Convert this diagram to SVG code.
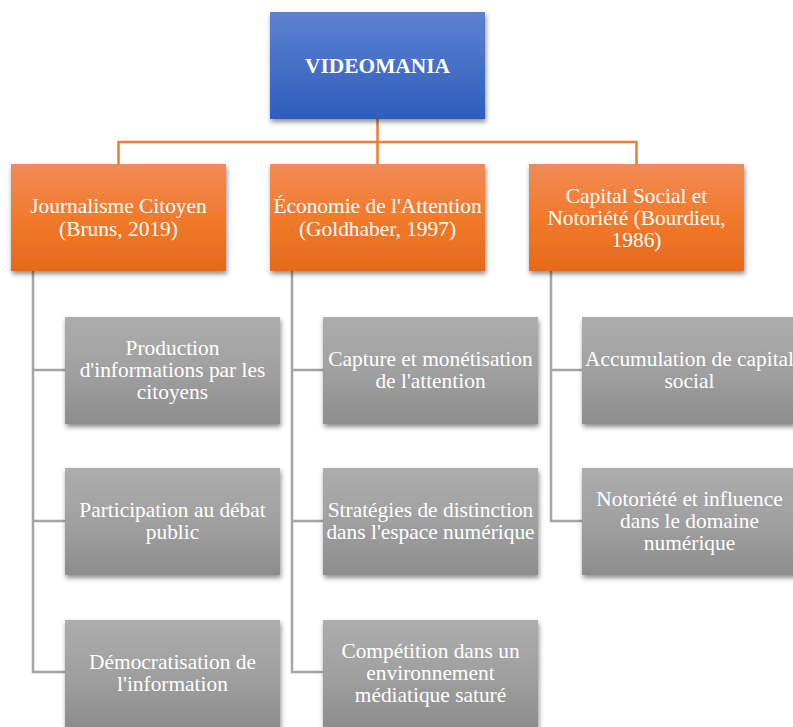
<svg xmlns="http://www.w3.org/2000/svg" width="793" height="727" viewBox="0 0 793 727">
<style>
text{font-family:'Liberation Serif','Times New Roman',serif;font-size:21.4px;fill:#ffffff;text-anchor:middle}
.title{font-weight:bold}
.oc{stroke:#ed7d31;stroke-width:2.5;fill:none}
.gc{stroke:#a5a5a5;stroke-width:2.5;fill:none}
</style>
<defs>
<linearGradient id="gb" x1="0" y1="0" x2="0" y2="1"><stop offset="0" stop-color="#5d81d1"/><stop offset="1" stop-color="#2e5ebd"/></linearGradient>
<linearGradient id="go" x1="0" y1="0" x2="0" y2="1"><stop offset="0" stop-color="#f08b57"/><stop offset="0.5" stop-color="#f27a2c"/><stop offset="1" stop-color="#e36a1b"/></linearGradient>
<linearGradient id="gg" x1="0" y1="0" x2="0" y2="1"><stop offset="0" stop-color="#adadad"/><stop offset="0.5" stop-color="#a0a0a0"/><stop offset="1" stop-color="#8d8d8d"/></linearGradient>
<filter id="sh" x="-10%" y="-10%" width="125%" height="130%"><feDropShadow dx="1" dy="3" stdDeviation="2.5" flood-color="#000" flood-opacity="0.45"/></filter>
</defs>
<g id="connectors">
<path class="oc" d="M377.5 119V142M118.5 164V142H636.5V164M377.5 142V164"/>
<path class="gc" d="M33 271V672H65M33 370H65M33 521H65"/>
<path class="gc" d="M292 271V672H323M292 370H323M292 521H323"/>
<path class="gc" d="M551 271V521H582M551 370H582"/>
</g>
<g id="videomania"><rect x="270" y="12" width="215" height="107" fill="url(#gb)" filter="url(#sh)"/><text class="title" x="377.5" y="73">VIDEOMANIA</text></g>
<g id="journalisme"><rect x="11" y="164" width="215" height="107" fill="url(#go)" filter="url(#sh)"/><text x="118.5" y="213">Journalisme Citoyen</text><text x="118.5" y="236">(Bruns, 2019)</text></g>
<g id="economie"><rect x="270" y="164" width="215" height="107" fill="url(#go)" filter="url(#sh)"/><text x="377.5" y="213">Économie de l'Attention</text><text x="377.5" y="236">(Goldhaber, 1997)</text></g>
<g id="capital"><rect x="529" y="164" width="215" height="107" fill="url(#go)" filter="url(#sh)"/><text x="636.5" y="203">Capital Social et</text><text x="636.5" y="225">Notoriété (Bourdieu,</text><text x="636.5" y="247">1986)</text></g>
<g id="production"><rect x="65" y="317" width="215" height="107" fill="url(#gg)" filter="url(#sh)"/><text x="172.5" y="355">Production</text><text x="172.5" y="377">d'informations par les</text><text x="172.5" y="399">citoyens</text></g>
<g id="participation"><rect x="65" y="468" width="215" height="107" fill="url(#gg)" filter="url(#sh)"/><text x="172.5" y="517">Participation au débat</text><text x="172.5" y="539">public</text></g>
<g id="democratisation"><rect x="65" y="620" width="215" height="107" fill="url(#gg)" filter="url(#sh)"/><text x="172.5" y="669">Démocratisation de</text><text x="172.5" y="691">l'information</text></g>
<g id="capture"><rect x="323" y="317" width="215" height="107" fill="url(#gg)" filter="url(#sh)"/><text x="430.5" y="366">Capture et monétisation</text><text x="430.5" y="388">de l'attention</text></g>
<g id="strategies"><rect x="323" y="468" width="215" height="107" fill="url(#gg)" filter="url(#sh)"/><text x="430.5" y="517">Stratégies de distinction</text><text x="430.5" y="539">dans l'espace numérique</text></g>
<g id="competition"><rect x="323" y="620" width="215" height="107" fill="url(#gg)" filter="url(#sh)"/><text x="430.5" y="658">Compétition dans un</text><text x="430.5" y="680">environnement</text><text x="430.5" y="702">médiatique saturé</text></g>
<g id="accumulation"><rect x="582" y="317" width="215" height="107" fill="url(#gg)" filter="url(#sh)"/><text x="689.5" y="366">Accumulation de capital</text><text x="689.5" y="388">social</text></g>
<g id="notoriete"><rect x="582" y="468" width="215" height="107" fill="url(#gg)" filter="url(#sh)"/><text x="689.5" y="506">Notoriété et influence</text><text x="689.5" y="528">dans le domaine</text><text x="689.5" y="550">numérique</text></g>
</svg>
